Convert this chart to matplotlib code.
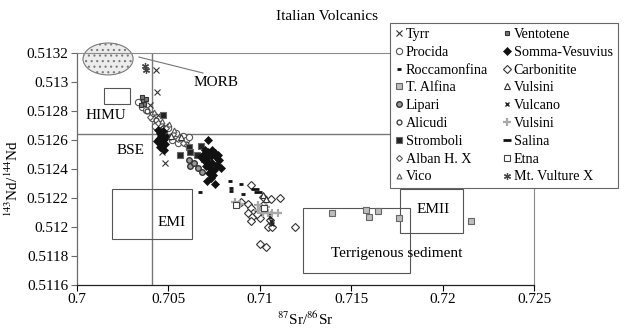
import matplotlib as mpl
mpl.use("Agg")
import matplotlib.pyplot as plt
from matplotlib.patches import Ellipse, Rectangle
from matplotlib.ticker import FixedLocator, FuncFormatter

mpl.rcParams.update(
    {
        "font.family": ["Liberation Serif", "DejaVu Serif"],
        "mathtext.fontset": "stix",
        "font.size": 11,
        "axes.unicode_minus": False,
        "hatch.linewidth": 0.8,
    }
)

# ---- data (87Sr/86Sr, 143Nd/144Nd) ----
tyrr_x = [0.70432, 0.70438, 0.70465, 0.70481, 0.70399, 0.70443, 0.70481]
tyrr_y = [0.51308, 0.51293, 0.51252, 0.51244, 0.51284, 0.51277, 0.51270]

procida_x = [0.70334, 0.70356, 0.70377, 0.70410, 0.70454, 0.70498, 0.70542, 0.70580,
             0.70596, 0.70520, 0.70427, 0.70476, 0.70553, 0.70613]
procida_y = [0.51286, 0.51283, 0.51281, 0.51275, 0.51271, 0.51268, 0.51265, 0.51263,
             0.51260, 0.51260, 0.51270, 0.51265, 0.51258, 0.51262]

rocca_x = [0.70465, 0.70673, 0.70837, 0.70897, 0.70842, 0.70842, 0.70908]
rocca_y = [0.51277, 0.51224, 0.51232, 0.51230, 0.51227, 0.51225, 0.51223]

alfina_x = [0.71395, 0.71581, 0.71597, 0.71647, 0.71761, 0.72155]
alfina_y = [0.51210, 0.51212, 0.51207, 0.51211, 0.51206, 0.51204]

lipari_x = [0.70613, 0.70618, 0.70662, 0.70684, 0.70454, 0.70640]
lipari_y = [0.51246, 0.51242, 0.51241, 0.51238, 0.51257, 0.51244]

alicudi_x = [0.70383, 0.70410, 0.70432, 0.70470, 0.70509, 0.70596]
alicudi_y = [0.51280, 0.51278, 0.51274, 0.51268, 0.51262, 0.51257]

stromboli_x = [0.70470, 0.70563, 0.70613, 0.70618, 0.70678, 0.70656, 0.70695, 0.70454]
stromboli_y = [0.51277, 0.51250, 0.51255, 0.51252, 0.51256, 0.51250, 0.51247, 0.51263]

alban_x = [0.70399, 0.70443, 0.70487, 0.70525, 0.70553, 0.70580]
alban_y = [0.51276, 0.51272, 0.51268, 0.51264, 0.51261, 0.51258]

vico_x = [0.70421, 0.70465, 0.70503, 0.70531]
vico_y = [0.51279, 0.51273, 0.51271, 0.51267]

ventotene_x = [0.70356, 0.70361, 0.70367, 0.70350, 0.70377]
ventotene_y = [0.51290, 0.51287, 0.51285, 0.51284, 0.51288]

vesuvius_x = [0.70443, 0.70454, 0.70465, 0.70449, 0.70470, 0.70459, 0.70481, 0.70454,
              0.70476, 0.70487, 0.70438, 0.70470,
              0.70700, 0.70717, 0.70738, 0.70755, 0.70689, 0.70711, 0.70733, 0.70760,
              0.70777, 0.70695, 0.70717, 0.70738, 0.70766, 0.70788, 0.70706, 0.70728,
              0.70749, 0.70722, 0.70744, 0.70733, 0.70678, 0.70771,
              0.70717, 0.70711, 0.70755]
vesuvius_y = [0.51267, 0.51265, 0.51263, 0.51261, 0.51260, 0.51258, 0.51257, 0.51255,
              0.51253, 0.51262, 0.51259, 0.51266,
              0.51253, 0.51252, 0.51253, 0.51251, 0.51250, 0.51248, 0.51249, 0.51248,
              0.51246, 0.51246, 0.51245, 0.51244, 0.51243, 0.51241, 0.51242, 0.51241,
              0.51239, 0.51237, 0.51236, 0.51234, 0.51248, 0.51250,
              0.51260, 0.51232, 0.51230]

carbo_x = [0.70952, 0.70897, 0.70935, 0.70952, 0.70963, 0.70935, 0.70957, 0.70952,
           0.71001, 0.71017, 0.71017, 0.71061, 0.71110, 0.71056, 0.71045, 0.71067,
           0.71192, 0.71001, 0.71034, 0.70985]
carbo_y = [0.51229, 0.51217, 0.51216, 0.51213, 0.51210, 0.51210, 0.51207, 0.51204,
           0.51206, 0.51221, 0.51215, 0.51219, 0.51220, 0.51205, 0.51200, 0.51200,
           0.51200, 0.51188, 0.51186, 0.51209]

vulsini_a_x = [0.70514, 0.70569, 0.71017, 0.71034]
vulsini_a_y = [0.51263, 0.51262, 0.51222, 0.51219]

vulcano_x = [0.71056, 0.71061, 0.71050, 0.71067]
vulcano_y = [0.51207, 0.51204, 0.51210, 0.51202]

vulsini_b_x = [0.70864, 0.70892, 0.70990, 0.71012, 0.71017, 0.71045, 0.71067, 0.71099,
               0.70990, 0.71034]
vulsini_b_y = [0.51217, 0.51216, 0.51215, 0.51213, 0.51210, 0.51210, 0.51210, 0.51210,
               0.51212, 0.51214]

salina_x = [0.70974, 0.70990]
salina_y = [0.51226, 0.51224]

etna_x = [0.70870, 0.71023]
etna_y = [0.51215, 0.51213]

vulture_x = [0.70372, 0.70378]
vulture_y = [0.51311, 0.51308]

x_ticks = [0.700, 0.705, 0.710, 0.715, 0.720, 0.725]
y_ticks = [0.5116, 0.5118, 0.5120, 0.5122, 0.5124, 0.5126, 0.5128, 0.5130, 0.5132]

# reservoir fields
bse_sr = 0.7041
bse_nd = 0.51264
morb_center = (0.7017, 0.513159)
morb_size = (0.00274, 0.00022)
himu_box = (0.70148, 0.51285, 0.00142, 0.00011)
emi_box = (0.70191, 0.51192, 0.00439, 0.00034)
emii_box = (0.71767, 0.51196, 0.00345, 0.00030)
terr_box = (0.71236, 0.51168, 0.00585, 0.00045)

fig = plt.figure(figsize=(6.4, 3.33), dpi=100)
ax = fig.add_axes([0.1203, 0.1441, 0.7141, 0.6967])
ax.set_xlim(0.700, 0.725)
ax.set_ylim(0.5116, 0.5132)

for side in ("top", "right"):
    ax.spines[side].set_color("#8a8a8a")
    ax.spines[side].set_linewidth(0.8)
ax.spines["left"].set_color("#6a6a6a")
ax.spines["left"].set_linewidth(0.9)
ax.spines["bottom"].set_color("#222222")
ax.spines["bottom"].set_linewidth(0.9)

ax.xaxis.set_major_locator(FixedLocator(x_ticks))
ax.yaxis.set_major_locator(FixedLocator(y_ticks))
ax.xaxis.set_major_formatter(FuncFormatter(lambda v, p: f"{v:.3f}".rstrip("0")))
ax.yaxis.set_major_formatter(FuncFormatter(lambda v, p: f"{v:.4f}".rstrip("0")))
ax.tick_params(axis="both", direction="out", length=4, width=0.8, labelsize=11, pad=2)
ax.tick_params(axis="y", color="#6a6a6a")

ax.set_xlabel(r"$^{87}$Sr/$^{86}$Sr", fontsize=11, labelpad=3)
ax.set_ylabel(r"$^{143}$Nd/$^{144}$Nd", fontsize=11)
ax.yaxis.set_label_coords(-0.122, 0.46)
fig.text(0.511, 0.949, "Italian Volcanics", ha="center", va="center", fontsize=11)

# reference lines / fields
ax.axvline(bse_sr, color="#777777", lw=1.0, zorder=1)
ax.axhline(bse_nd, color="#777777", lw=1.0, zorder=1)
ax.add_patch(Ellipse(morb_center, morb_size[0], morb_size[1], facecolor="#ececec",
                     edgecolor="#7a7a7a", hatch="...", lw=0.8, zorder=1, clip_on=False))
ax.plot([0.70339, 0.70689], [0.513172, 0.513062], color="#777777", lw=0.8, zorder=1)
for bx, by, bw, bh in (himu_box, emi_box, emii_box, terr_box):
    ax.add_patch(Rectangle((bx, by), bw, bh, fill=False, edgecolor="#555555", lw=0.8, zorder=1))

ax.text(0.70635, 0.51300, "MORB", fontsize=11, va="center")
ax.text(0.70049, 0.51277, "HIMU", fontsize=11, va="center")
ax.text(0.70219, 0.51253, "BSE", fontsize=11, va="center")
ax.text(0.70438, 0.51203, "EMI", fontsize=11, va="center")
ax.text(0.71860, 0.51212, "EMII", fontsize=11, va="center")
ax.text(0.71389, 0.511814, "Terrigenous sediment", fontsize=11, va="center")

series = [
    ("Tyrr", tyrr_x, tyrr_y, dict(marker="x", color="#333333", ms=4, mew=0.8)),
    ("Procida", procida_x, procida_y, dict(marker="o", mfc="white", mec="#555555", ms=4.5, mew=0.8)),
    ("Roccamonfina", rocca_x, rocca_y, dict(marker="_", color="#111111", ms=3.5, mew=2.0)),
    ("T. Alfina", alfina_x, alfina_y, dict(marker="s", mfc="#bdbdbd", mec="#666666", ms=4.5, mew=0.8)),
    ("Lipari", lipari_x, lipari_y, dict(marker="o", mfc="#9a9a9a", mec="#333333", ms=4, mew=1.0)),
    ("Alicudi", alicudi_x, alicudi_y, dict(marker="o", mfc="white", mec="#444444", ms=3.5, mew=1.0)),
    ("Stromboli", stromboli_x, stromboli_y, dict(marker="s", mfc="#222222", mec="#666666", ms=4, mew=0.8)),
    ("Alban H. X", alban_x, alban_y, dict(marker="D", mfc="white", mec="#555555", ms=3, mew=0.8)),
    ("Vico", vico_x, vico_y, dict(marker="^", mfc="white", mec="#555555", ms=3.5, mew=0.8)),
    ("Ventotene", ventotene_x, ventotene_y, dict(marker="s", mfc="#777777", mec="#333333", ms=3.5, mew=0.8)),
    ("Somma-Vesuvius", vesuvius_x, vesuvius_y, dict(marker="D", color="#111111", ms=4, mew=0.5)),
    ("Carbonitite", carbo_x, carbo_y, dict(marker="D", mfc="white", mec="#333333", ms=4, mew=0.8)),
    ("Vulsini", vulsini_a_x, vulsini_a_y, dict(marker="^", mfc="white", mec="#333333", ms=4, mew=0.8)),
    ("Vulcano", vulcano_x, vulcano_y, dict(marker="x", color="#222222", ms=3.5, mew=1.0)),
    ("Vulsini", vulsini_b_x, vulsini_b_y, dict(marker="+", color="#a8a8a8", ms=6, mew=1.6)),
    ("Salina", salina_x, salina_y, dict(marker="_", color="#111111", ms=6, mew=2.0)),
    ("Etna", etna_x, etna_y, dict(marker="s", mfc="white", mec="#444444", ms=4, mew=0.8)),
    ("Mt. Vulture X", vulture_x, vulture_y, dict(marker=(6, 2, 0), color="#444444", ms=5, mew=0.9)),
]

handles = []
for name, xs, ys, style in series:
    (h,) = ax.plot(xs, ys, ls="none", label=name, zorder=3, **style)
    handles.append(h)

leg = fig.legend(
    handles=handles,
    loc="upper left",
    bbox_to_anchor=(0.609, 0.931),
    ncol=2,
    fontsize=10.2,
    frameon=True,
    fancybox=False,
    edgecolor="#666666",
    framealpha=1.0,
    handlelength=0.6,
    handletextpad=0.2,
    columnspacing=1.0,
    labelspacing=0.34,
    borderpad=0.35,
    borderaxespad=0.0,
)
leg.get_frame().set_linewidth(0.8)

fig.savefig("out.png", dpi=100)
